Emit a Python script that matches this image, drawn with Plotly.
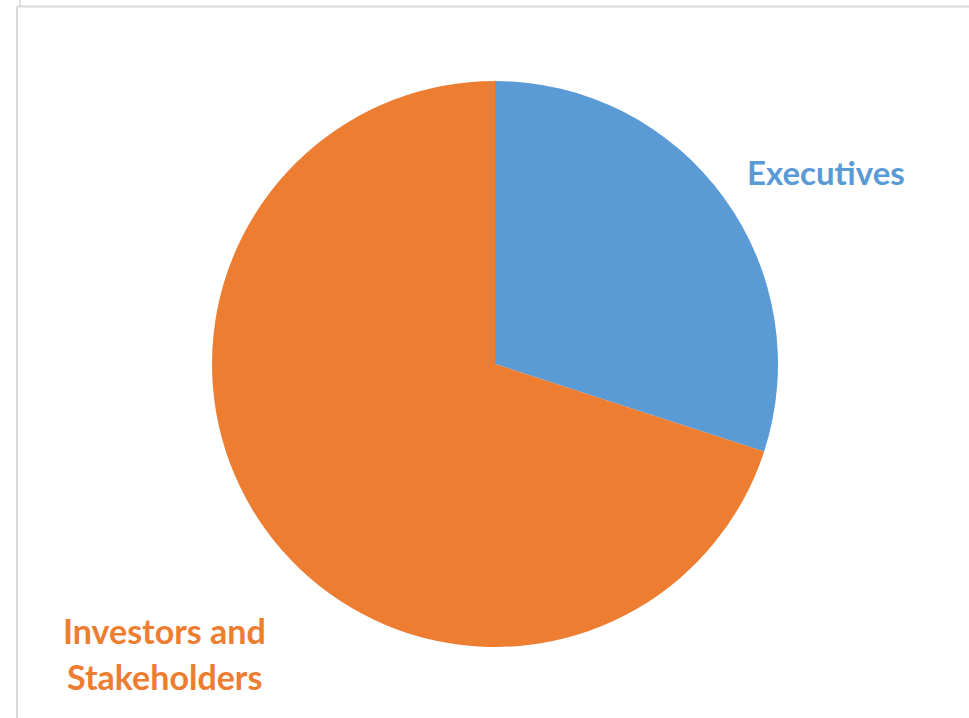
import plotly.graph_objects as go

categories = ["Executives", "Investors and Stakeholders"]
values = [30, 70]
colors = ["#5B9BD5", "#ED7D31"]

W, H = 969, 718
def px(x):
    return x / W
def py(y):
    return 1 - y / H

fig = go.Figure(go.Pie(
    labels=categories,
    values=values,
    sort=False,
    direction="clockwise",
    rotation=0,
    marker=dict(colors=colors, line=dict(width=0)),
    textinfo="none",
    hoverinfo="label+percent",
    showlegend=False,
    domain=dict(x=[px(495 - 283), px(495 + 283)], y=[py(647), py(81)]),
))

font_family = "Lato, Open Sans, sans-serif"
fs = 33
fig.add_annotation(x=px(826), y=py(172), xref="paper", yref="paper", text="<b>Executives</b>",
                   showarrow=False, font=dict(family=font_family, size=fs, color="#5B9BD5"),
                   xanchor="center", yanchor="middle")
fig.add_annotation(x=px(164), y=py(630), xref="paper", yref="paper", text="<b>Investors and</b>",
                   showarrow=False, font=dict(family=font_family, size=fs + 1, color="#ED7D31"),
                   xanchor="center", yanchor="middle")
fig.add_annotation(x=px(164), y=py(676), xref="paper", yref="paper", text="<b>Stakeholders</b>",
                   showarrow=False, font=dict(family=font_family, size=fs + 1, color="#ED7D31"),
                   xanchor="center", yanchor="middle")

# frame lines
fig.add_shape(type="line", xref="paper", yref="paper", x0=px(17), x1=1, y0=py(6.5), y1=py(6.5),
              line=dict(color="#D9D9D9", width=2))
fig.add_shape(type="line", xref="paper", yref="paper", x0=px(17), x1=px(17), y0=py(6.5), y1=0,
              line=dict(color="#D9D9D9", width=2))
fig.add_shape(type="line", xref="paper", yref="paper", x0=px(20), x1=px(20), y0=1, y1=py(6.5),
              line=dict(color="#D9D9D9", width=1.5))

fig.update_layout(
    width=W, height=H,
    margin=dict(l=0, r=0, t=0, b=0),
    paper_bgcolor="white",
    plot_bgcolor="white",
)

fig.write_html("out.html", config={"displayModeBar": False},
               post_script="document.body.style.margin='0px';document.body.style.overflow='hidden';")
